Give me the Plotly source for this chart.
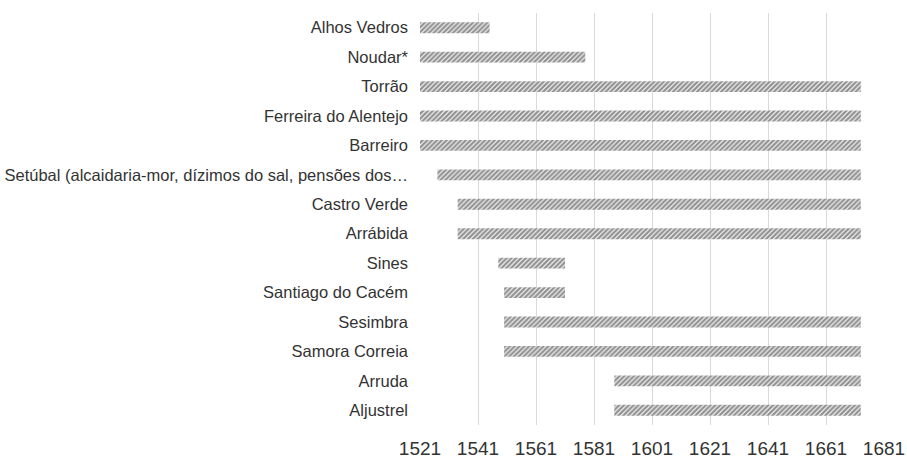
import plotly.graph_objects as go

places = ["Alhos Vedros", "Noudar*", "Torrão", "Ferreira do Alentejo", "Barreiro",
          "Setúbal (alcaidaria-mor, dízimos do sal, pensões dos…",
          "Castro Verde", "Arrábida", "Sines", "Santiago do Cacém", "Sesimbra",
          "Samora Correia", "Arruda", "Aljustrel"]
start_year = [1521, 1521, 1521, 1521, 1521, 1527, 1534, 1534, 1548, 1550, 1550, 1550, 1588, 1588]
end_year = [1545, 1578, 1673, 1673, 1673, 1673, 1673, 1673, 1571, 1571, 1673, 1673, 1673, 1673]
tick_vals = list(range(1521, 1682, 20))

duration = [e - s for s, e in zip(start_year, end_year)]

fig = go.Figure(go.Bar(
    y=places, x=duration, base=start_year, orientation="h",
    width=0.37,
    marker=dict(color="white", line=dict(width=0),
                pattern=dict(shape="/", fgcolor="#262626", bgcolor="white",
                             size=3.4, solidity=0.7)),
    hoverinfo="skip",
))

fig.update_layout(
    width=907, height=458,
    margin=dict(l=420, r=23, t=13, b=33),
    paper_bgcolor="white", plot_bgcolor="white",
    font=dict(family="Liberation Sans, Arial, sans-serif", color="#404040"),
    showlegend=False,
    xaxis=dict(range=[1521, 1681], tickvals=tick_vals, showgrid=True,
               gridcolor="#d9d9d9", gridwidth=1, zeroline=False, automargin=False,
               tickfont=dict(size=19, color="#333333"), ticks="",
               ticklabelstandoff=10, showline=False),
    yaxis=dict(autorange="reversed", categoryorder="array", categoryarray=places,
               tickfont=dict(size=16.5, color="#333333"), ticks="", showgrid=False,
               automargin=False, ticklabelstandoff=11),
)

fig.write_html(
    "out.html",
    config={"displayModeBar": False},
    post_script="document.body.style.margin='0';document.body.style.overflow='hidden';",
)
